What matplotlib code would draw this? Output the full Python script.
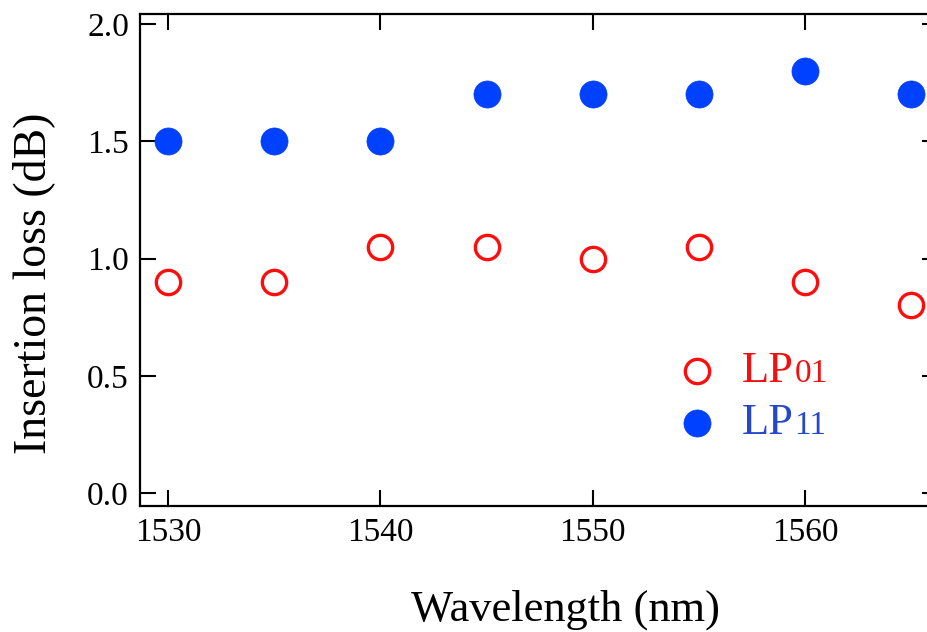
import matplotlib
matplotlib.use("Agg")
import matplotlib.pyplot as plt
from matplotlib.lines import Line2D
from matplotlib.offsetbox import (AnchoredOffsetbox, HPacker, VPacker,
                                  TextArea, DrawingArea)

plt.rcParams['font.family'] = ['Liberation Serif', 'DejaVu Serif']

# Insertion loss per wavelength for the two guided modes
wavelength = [1530, 1535, 1540, 1545, 1550, 1555, 1560, 1565]
loss_lp01 = [0.90, 0.90, 1.05, 1.05, 1.00, 1.05, 0.90, 0.80]
loss_lp11 = [1.50, 1.50, 1.50, 1.70, 1.70, 1.70, 1.80, 1.70]

x_ticks = [1530, 1540, 1550, 1560]
y_ticks = [0.0, 0.5, 1.0, 1.5, 2.0]

red = '#ff0d0d'
blue = '#0040ff'
red_text = '#f01010'
blue_text = '#2448c8'

fig = plt.figure(figsize=(9.28, 6.32), dpi=100)
ax = fig.add_axes([140 / 928, 126 / 632, 798 / 928, 492 / 632])

ax.plot(wavelength, loss_lp01, linestyle='none', marker='o', ms=17.5,
        mfc='white', mec=red, mew=2.4, zorder=3)
ax.plot(wavelength, loss_lp11, linestyle='none', marker='o', ms=19.5,
        mfc=blue, mec=blue, mew=0.5, zorder=3)

ax.set_xlim(1528.68, 1566.25)
ax.set_ylim(-0.055, 2.043)
ax.set_xticks(x_ticks)
ax.set_yticks(y_ticks)
ax.set_yticklabels([f'{v:.1f}' for v in y_ticks])

for s in ax.spines.values():
    s.set_linewidth(1.6)
ax.tick_params(which='major', direction='in', length=11.5, width=1.5,
               top=True, right=True, labelsize=24, pad=8, colors='black')
ax.tick_params(axis='y', pad=8)

ax.set_xlabel('Wavelength (nm)', fontsize=32, labelpad=30)
ax.xaxis.label.set_x(0.533)
ax.set_ylabel('Insertion loss (dB)', fontsize=33, labelpad=23)
ax.yaxis.label.set_y(0.453)


def legend_row(marker_kw, color, sub_label):
    da = DrawingArea(30, 30, 0, 0)
    da.add_artist(Line2D([15], [15], linestyle='none', marker='o', **marker_kw))
    main = TextArea('LP', textprops=dict(color=color, fontsize=32))
    sub = TextArea(sub_label, textprops=dict(color=color, fontsize=24))
    txt = HPacker(children=[main, sub], align='baseline', pad=0, sep=1)
    return HPacker(children=[da, txt], align='center', pad=0, sep=17)


rows = [
    legend_row(dict(ms=17.5, mfc='white', mec=red, mew=2.4), red_text, '01'),
    legend_row(dict(ms=19.5, mfc=blue, mec=blue, mew=0.5), blue_text, '11'),
]
box = VPacker(children=rows, align='left', pad=0, sep=8)
anchored = AnchoredOffsetbox(loc='center left', child=box, pad=0,
                             frameon=False,
                             bbox_to_anchor=(676 / 928, 1 - 397 / 632),
                             bbox_transform=fig.transFigure, borderpad=0)
ax.add_artist(anchored)

fig.savefig('out.png', dpi=100)
